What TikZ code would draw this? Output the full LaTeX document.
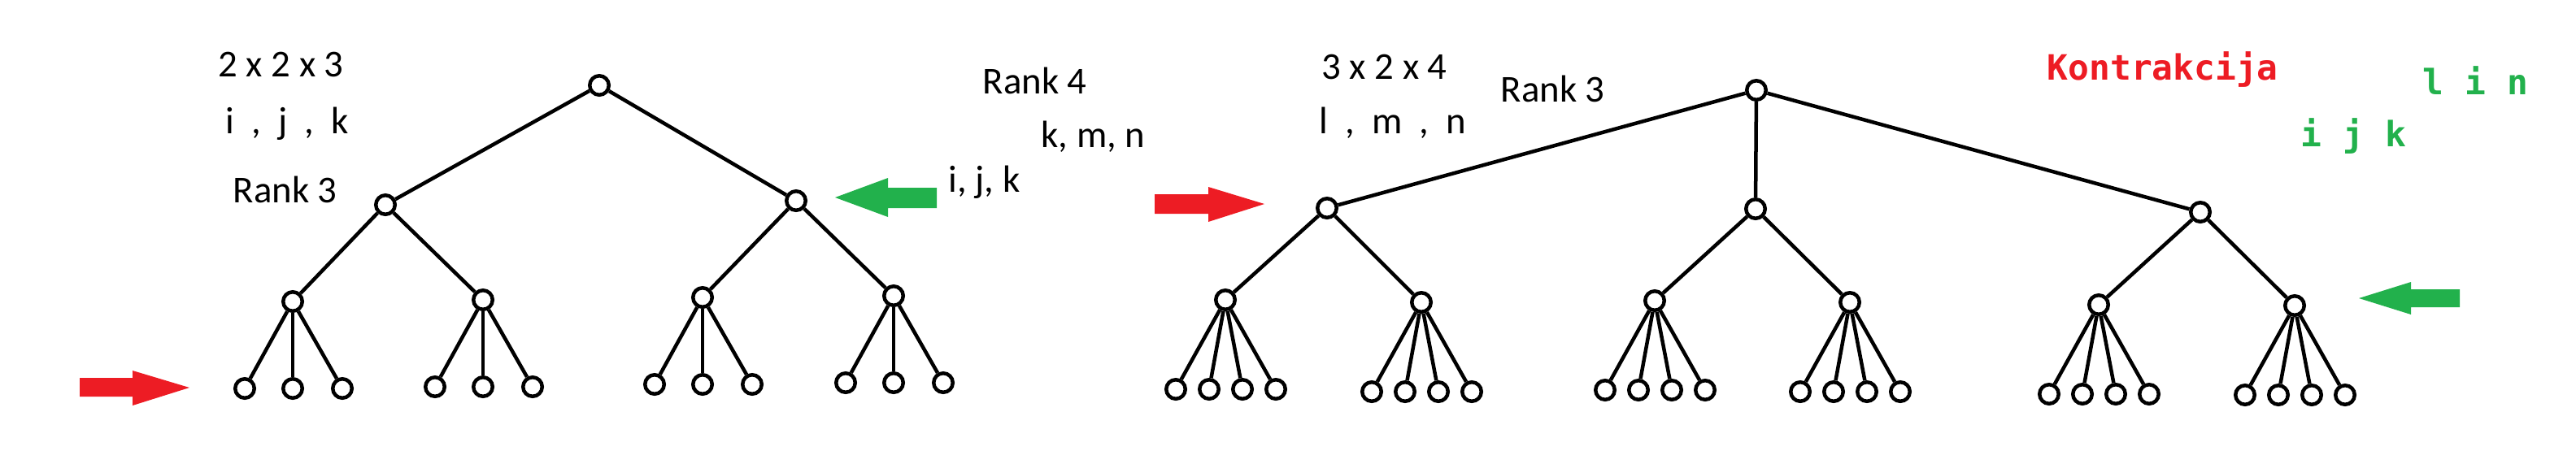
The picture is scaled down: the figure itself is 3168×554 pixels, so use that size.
\documentclass[tikz,border=0pt]{standalone}
\usepackage{fontspec}
\setmainfont{Carlito}
\newfontfamily\codefont{DejaVu Sans Mono}
\usepackage{tikz}
\definecolor{paintred}{RGB}{237,28,36}
\definecolor{paintgreen}{RGB}{34,177,76}
\tikzstyle{vertex} = [circle, draw=black, fill=white, line width=0.045cm, minimum size=0.235cm, inner sep=0pt]
\tikzstyle{edge} = [line width=0.045cm]
\tikzstyle{lbl} = [anchor=base west, inner sep=0pt, font=\fontsize{13.3}{16}\selectfont]
\tikzstyle{codelbl} = [anchor=base west, inner sep=0pt, font=\codefont\bfseries\fontsize{12.2}{14}\selectfont]

\begin{document}
\begin{tikzpicture}[x=0.01cm,y=-0.01cm]
    \useasboundingbox (0,0) rectangle (3168,554);

    % left tree, rank 3
    \node[vertex] (L) at (737,105) {};
    \node[vertex] (La) at (474,252) {};
    \node[vertex] (Lb) at (979,247) {};
    \node[vertex] (Laa) at (360,371) {};
    \node[vertex] (Lab) at (594,369) {};
    \node[vertex] (Lba) at (864,366) {};
    \node[vertex] (Lbb) at (1099,364) {};
    \draw[edge] (L) -- (La);
    \draw[edge] (L) -- (Lb);
    \draw[edge] (La) -- (Laa);
    \draw[edge] (La) -- (Lab);
    \draw[edge] (Lb) -- (Lba);
    \draw[edge] (Lb) -- (Lbb);
    \foreach \p in {Laa,Lab,Lba,Lbb} {
        \foreach \dx [count=\i] in {-59,0,61} {
            \path (\p) ++(\dx,107) node[vertex] (\p\i) {};
            \draw[edge] (\p) -- (\p\i);
        }
    }

    % right tree, rank 4
    \node[vertex] (R) at (2160,111) {};
    \node[vertex] (Ra) at (1632,256) {};
    \node[vertex] (Rb) at (2159,257) {};
    \node[vertex] (Rc) at (2706,261) {};
    \node[vertex] (Raa) at (1507,369) {};
    \node[vertex] (Rab) at (1748,372) {};
    \node[vertex] (Rba) at (2035,370) {};
    \node[vertex] (Rbb) at (2275,372) {};
    \node[vertex] (Rca) at (2581,375) {};
    \node[vertex] (Rcb) at (2822,376) {};
    \draw[edge] (R) -- (Ra);
    \draw[edge] (R) -- (Rb);
    \draw[edge] (R) -- (Rc);
    \draw[edge] (Ra) -- (Raa);
    \draw[edge] (Ra) -- (Rab);
    \draw[edge] (Rb) -- (Rba);
    \draw[edge] (Rb) -- (Rbb);
    \draw[edge] (Rc) -- (Rca);
    \draw[edge] (Rc) -- (Rcb);
    \foreach \p in {Raa,Rab,Rba,Rbb,Rca,Rcb} {
        \foreach \dx [count=\i] in {-61,-20,21,62} {
            \path (\p) ++(\dx,110) node[vertex] (\p\i) {};
            \draw[edge] (\p) -- (\p\i);
        }
    }

    % labels
    \node[lbl] (dimL) at (268,94) {2 x 2 x 3};
    \node[lbl] (idxL) at (277,164) {i\ \ ,\ \ j\ \ ,\ \ k};
    \node[lbl] (rankL) at (286,249) {Rank 3};
    \node[lbl] (rankR) at (1208,115) {Rank 4};
    \node[lbl] (kmn) at (1280,181) {k, m, n};
    \node[lbl] (ijk) at (1166,236) {i, j, k};
    \node[lbl] (dimR) at (1625,97) {3 x 2 x 4};
    \node[lbl] (idxR) at (1622,164) {l\ \ ,\ \ m\ \ ,\ \ n};
    \node[lbl] (rankM) at (1845,125) {Rank 3};
    \node[codelbl, text=paintred] (kontr) at (2517,98) {Kontrakcija};
    \node[codelbl, text=paintgreen] (lin) at (2979,116) {l i n};
    \node[codelbl, text=paintgreen] (ijkc) at (2829,180) {i j k};

    % block arrows
    \fill[paintred] (98,465) -- (163,465) -- (163,456) -- (233,477) -- (163,499) -- (163,488) -- (98,488) -- cycle;
    \fill[paintred] (1420,239) -- (1486,239) -- (1486,230) -- (1555,251) -- (1486,273) -- (1486,263) -- (1420,263) -- cycle;
    \fill[paintgreen] (1152,231) -- (1092,231) -- (1092,219) -- (1027,243) -- (1092,267) -- (1092,256) -- (1152,256) -- cycle;
    \fill[paintgreen] (3025,356) -- (2965,356) -- (2965,347) -- (2901,367) -- (2965,387) -- (2965,378) -- (3025,378) -- cycle;
\end{tikzpicture}
\end{document}
